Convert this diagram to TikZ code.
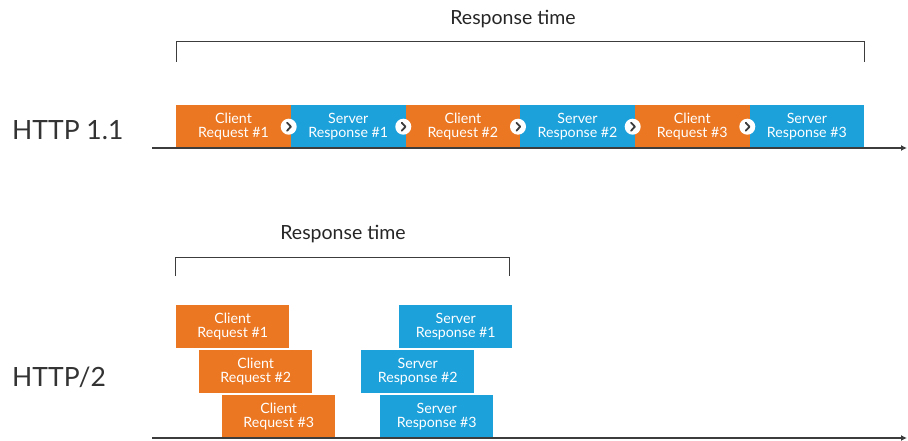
\documentclass[tikz,border=0pt]{standalone}
\usepackage{fontspec}
\setmainfont{Lato}
\usetikzlibrary{arrows.meta}
\definecolor{reqorange}{RGB}{235,119,34}
\definecolor{resblue}{RGB}{29,161,219}
\definecolor{linegray}{RGB}{60,60,60}

\begin{document}
\begin{tikzpicture}[x=1pt,y=-1pt,
  block/.style={anchor=north west,minimum width=114.7pt,minimum height=43pt,inner sep=0pt,
    text=white,align=center,font=\fontsize{14.2}{14.5}\selectfont},
  request/.style={block,fill=reqorange},
  response/.style={block,fill=resblue},
  narrow/.style={minimum width=113pt},
  chev/.style={circle,fill=white,minimum size=16pt,inner sep=0pt},
  chevline/.style={draw=linegray,line width=1.8pt,line cap=round,line join=round},
  axis/.style={draw=linegray,line width=1.3pt,-{Latex[length=6pt,width=6pt]}},
  bracket/.style={draw=linegray,line width=1pt},
  title/.style={font=\fontsize{19.5}{22}\selectfont,text=black!85},
  proto/.style={anchor=west,font=\fontsize{26.5}{30}\selectfont,text=black!80,inner sep=0pt}]
\useasboundingbox (0,0) rectangle (908,441);

\node[title] (t1) at (513,19) {Response time};
\coordinate (bl1) at (176,62);
\coordinate (br1) at (864,62);
\draw[bracket] (bl1) -- ++(0,-20) -| (br1);

\node[proto] (h1) at (12,130) {HTTP 1.1};
\node[request] (q1) at (176,105) {Client\\Request \#1};
\node[response] (p1) at (290.7,105) {Server\\Response \#1};
\node[request] (q2) at (405.3,105) {Client\\Request \#2};
\node[response] (p2) at (520,105) {Server\\Response \#2};
\node[request] (q3) at (634.7,105) {Client\\Request \#3};
\node[response] (p3) at (749.3,105) {Server\\Response \#3};

\node[chev] (c1) at ([xshift=-2pt]p1.west) {};
\node[chev] (c2) at ([xshift=-2pt]q2.west) {};
\node[chev] (c3) at ([xshift=-2pt]p2.west) {};
\node[chev] (c4) at ([xshift=-2pt]q3.west) {};
\node[chev] (c5) at ([xshift=-2pt]p3.west) {};
\draw[chevline] ([xshift=-1.6pt,yshift=4pt]c1.center) -- ([xshift=2.2pt]c1.center) -- ([xshift=-1.6pt,yshift=-4pt]c1.center);
\draw[chevline] ([xshift=-1.6pt,yshift=4pt]c2.center) -- ([xshift=2.2pt]c2.center) -- ([xshift=-1.6pt,yshift=-4pt]c2.center);
\draw[chevline] ([xshift=-1.6pt,yshift=4pt]c3.center) -- ([xshift=2.2pt]c3.center) -- ([xshift=-1.6pt,yshift=-4pt]c3.center);
\draw[chevline] ([xshift=-1.6pt,yshift=4pt]c4.center) -- ([xshift=2.2pt]c4.center) -- ([xshift=-1.6pt,yshift=-4pt]c4.center);
\draw[chevline] ([xshift=-1.6pt,yshift=4pt]c5.center) -- ([xshift=2.2pt]c5.center) -- ([xshift=-1.6pt,yshift=-4pt]c5.center);

\coordinate (a0) at (152,148);
\coordinate (a1) at (907,148);
\draw[axis] (a0) -- (a1);

\node[title] (t2) at (343,234) {Response time};
\coordinate (bl2) at (175,276);
\coordinate (br2) at (509,276);
\draw[bracket] (bl2) -- ++(0,-19) -| (br2);

\node[proto] (h2) at (12,377) {HTTP/2};
\node[request,narrow] (q4) at (176,305) {Client\\Request \#1};
\node[request,narrow] (q5) at (199,350) {Client\\Request \#2};
\node[request,narrow] (q6) at (222,395) {Client\\Request \#3};
\node[response,narrow] (p4) at (399,305) {Server\\Response \#1};
\node[response,narrow] (p5) at (361,350) {Server\\Response \#2};
\node[response,narrow] (p6) at (380,395) {Server\\Response \#3};

\coordinate (a2) at (152,438);
\coordinate (a3) at (907,438);
\draw[axis] (a2) -- (a3);
\end{tikzpicture}
\end{document}
